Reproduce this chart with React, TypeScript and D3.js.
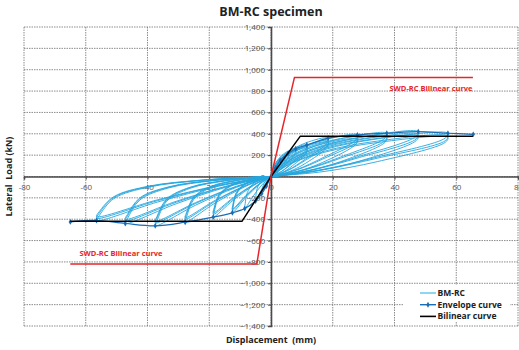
import React, { useEffect, useRef } from "react";
import * as d3 from "d3";

// axis ticks
const xTicks = [-80, -60, -40, -20, 0, 20, 40, 60, 80];
const yTicks = [-1400, -1200, -1000, -800, -600, -400, -200, 0, 200, 400, 600, 800, 1000, 1200, 1400];

// BM-RC hysteresis loops: [disp, load] pairs
const loops: number[][][] = [
  [[0,0],[0.45,50],[1.5,80],[1.48,60],[0.6,25],[0,0],[-0.6,-30],[-1.5,-90],[-1.48,-70],[-0.8,-20],[0,0]],
  [[0,0],[0.9,90],[1.8,130],[3,150],[2.95,115],[1.5,55],[0,0],[-1,-45],[-2,-100],[-3,-160],[-2.95,-125],[-2,-50],[-1,-15],[0,0]],
  [[0,0],[0.55,65],[1.65,133],[3.3,187],[5.5,215],[5.42,175],[3.3,97],[1.65,37],[0.28,4],[0,0],[-1.5,-51],[-3.25,-133],[-5,-230],[-4.93,-190],[-4.5,-115],[-3.5,-55],[-2,-21],[-0.6,-5],[0,0]],
  [[0,0],[0.8,78],[2.4,161],[4.8,226],[8,260],[7.88,215],[4.8,117],[2.4,44],[0.4,5],[0,0],[-2.55,-66],[-5.53,-174],[-8.5,-300],[-8.37,-255],[-7.65,-150],[-5.95,-72],[-3.4,-27],[-1.02,-6],[0,0]],
  [[0,0],[1.16,89],[3.48,183],[6.96,257],[11.6,295],[11.43,250],[6.96,133],[3.48,50],[0.58,6],[0,0],[-3.75,-75],[-8.13,-197],[-12.5,-340],[-12.31,-295],[-11.25,-170],[-8.75,-82],[-5,-31],[-1.5,-7],[0,0]],
  [[0,0],[1.16,83],[3.48,171],[6.96,239],[11.6,275],[11.43,230],[6.96,124],[3.48,47],[0.58,6],[0,0],[-3.75,-70],[-8.13,-184],[-12.5,-318],[-12.31,-273],[-11.25,-159],[-8.75,-76],[-5,-29],[-1.5,-6],[0,0]],
  [[0,0],[1.16,80],[3.48,164],[6.96,231],[11.6,265],[11.43,220],[6.96,101],[3.48,34],[0.58,5],[0,0],[-3.75,-67],[-8.13,-177],[-12.5,-305],[-12.31,-260],[-11.25,-152],[-8.75,-73],[-5,-27],[-1.5,-6],[0,0]],
  [[0,0],[1.85,108],[5.55,223],[11.1,313],[18.5,360],[18.22,315],[11.1,162],[5.55,61],[0.93,7],[0,0],[-5.61,-84],[-12.16,-220],[-18.7,-380],[-18.42,-335],[-16.83,-190],[-13.09,-91],[-7.48,-34],[-2.24,-8],[0,0]],
  [[0,0],[1.85,101],[5.55,208],[11.1,291],[18.5,335],[18.22,290],[11.1,151],[5.55,57],[0.93,7],[0,0],[-5.61,-78],[-12.16,-206],[-18.7,-355],[-18.42,-310],[-16.83,-178],[-13.09,-85],[-7.48,-32],[-2.24,-7],[0,0]],
  [[0,0],[1.85,97],[5.55,200],[11.1,280],[18.5,322],[18.22,277],[11.1,122],[5.55,42],[0.93,6],[0,0],[-5.61,-75],[-12.16,-197],[-18.7,-340],[-18.42,-295],[-16.83,-170],[-13.09,-82],[-7.48,-31],[-2.24,-7],[0,0]],
  [[0,0],[2.8,117],[8.4,242],[16.8,339],[28,390],[27.58,345],[16.8,176],[8.4,66],[1.4,8],[0,0],[-8.34,-94],[-18.07,-248],[-27.8,-428],[-27.38,-383],[-25.02,-214],[-19.46,-103],[-11.12,-39],[-3.34,-9],[0,0]],
  [[0,0],[2.8,110],[8.4,226],[16.8,318],[28,365],[27.58,320],[16.8,164],[8.4,62],[1.4,7],[0,0],[-8.34,-88],[-18.07,-232],[-27.8,-400],[-27.38,-355],[-25.02,-200],[-19.46,-96],[-11.12,-36],[-3.34,-8],[0,0]],
  [[0,0],[2.8,105],[8.4,217],[16.8,305],[28,350],[27.58,305],[16.8,133],[8.4,46],[1.4,6],[0,0],[-8.34,-85],[-18.07,-223],[-27.8,-385],[-27.38,-340],[-25.02,-192],[-19.46,-92],[-11.12,-35],[-3.34,-8],[0,0]],
  [[0,0],[3.75,122],[11.25,251],[22.5,352],[37.5,405],[36.94,360],[22.5,182],[11.25,69],[1.88,8],[0,0],[-11.25,-102],[-24.38,-268],[-37.5,-462],[-36.94,-417],[-33.75,-231],[-26.25,-111],[-15,-42],[-4.5,-9],[0,0]],
  [[0,0],[3.75,114],[11.25,236],[22.5,331],[37.5,380],[36.94,335],[22.5,171],[11.25,65],[1.88,8],[0,0],[-11.25,-96],[-24.38,-252],[-37.5,-435],[-36.94,-390],[-33.75,-218],[-26.25,-104],[-15,-39],[-4.5,-9],[0,0]],
  [[0,0],[3.75,110],[11.25,226],[22.5,318],[37.5,365],[36.94,320],[22.5,139],[11.25,47],[1.88,7],[0,0],[-11.25,-92],[-24.38,-244],[-37.5,-420],[-36.94,-375],[-33.75,-210],[-26.25,-101],[-15,-38],[-4.5,-8],[0,0]],
  [[0,0],[4.77,126],[14.31,260],[28.62,365],[47.7,420],[46.98,375],[28.62,189],[14.31,71],[2.39,8],[0,0],[-14.16,-97],[-30.68,-255],[-47.2,-440],[-46.49,-395],[-42.48,-220],[-33.04,-106],[-18.88,-40],[-5.66,-9],[0,0]],
  [[0,0],[4.77,119],[14.31,245],[28.62,344],[47.7,395],[46.98,350],[28.62,178],[14.31,67],[2.39,8],[0,0],[-14.16,-91],[-30.68,-241],[-47.2,-415],[-46.49,-370],[-42.48,-208],[-33.04,-100],[-18.88,-37],[-5.66,-8],[0,0]],
  [[0,0],[4.77,114],[14.31,236],[28.62,331],[47.7,380],[46.98,335],[28.62,144],[14.31,49],[2.39,7],[0,0],[-14.16,-88],[-30.68,-232],[-47.2,-400],[-46.49,-355],[-42.48,-200],[-33.04,-96],[-18.88,-36],[-5.66,-8],[0,0]],
  [[0,0],[5.73,122],[17.19,251],[34.38,352],[57.3,405],[56.44,360],[34.38,182],[17.19,69],[2.87,8],[0,0],[-16.95,-91],[-36.73,-239],[-56.5,-412],[-55.65,-367],[-50.85,-206],[-39.55,-99],[-22.6,-37],[-6.78,-8],[0,0]],
  [[0,0],[5.73,114],[17.19,236],[34.38,331],[57.3,380],[56.44,335],[34.38,171],[17.19,65],[2.87,8],[0,0],[-16.95,-86],[-36.73,-226],[-56.5,-390],[-55.65,-345],[-50.85,-195],[-39.55,-94],[-22.6,-35],[-6.78,-8],[0,0]],
  [[0,0],[5.73,110],[17.19,226],[34.38,318],[57.3,365],[56.44,320],[34.38,139],[17.19,47],[2.87,7],[0,0],[-16.95,-83],[-36.73,-218],[-56.5,-375],[-55.65,-330],[-50.85,-188],[-39.55,-90],[-22.6,-34],[-6.78,-8],[0,0]],
];

// envelope curve (peaks of each level)
const envelope: number[][] = [
  [-65, -425], [-56.5, -412], [-47.2, -440], [-37.5, -462], [-27.8, -428], [-18.7, -380],
  [-12.5, -340], [-8.5, -300], [-5, -230], [-3, -160], [-1.5, -90], [0, 0],
  [1.5, 80], [3, 150], [5.5, 215], [8, 260], [11.6, 295], [18.5, 360], [28, 390],
  [37.5, 405], [47.7, 420], [57.3, 405], [65.5, 395],
];

// bilinear curve of BM-RC
const bilinear: number[][] = [[-65, -420], [-9.4, -420], [0, 0], [9.5, 378], [65.4, 378]];

// SWD-RC bilinear curve
const swdBilinear: number[][] = [[-65, -820], [-4.6, -820], [0, 0], [7.6, 928], [65.4, 928]];

const legendItems = ["BM-RC", "Envelope curve", "Bilinear curve"];

const W = 519;
const H = 350;
const font = "'Open Sans', 'Noto Sans', sans-serif";

const App = () => {
  const ref = useRef<SVGSVGElement>(null);

  useEffect(() => {
    const svg = d3.select(ref.current);
    svg.selectAll("*").remove();

    const x = d3.scaleLinear().domain([-80, 80]).range([24, 518]);
    const y = d3.scaleLinear().domain([-1400, 1400]).range([326, 27]);

    // grid
    const grid = svg.append("g");
    xTicks.forEach((t) => {
      grid.append("line")
        .attr("x1", x(t)).attr("x2", x(t)).attr("y1", y(1400)).attr("y2", y(-1400))
        .attr("stroke", "#6e6e6e").attr("stroke-width", 0.8).attr("stroke-dasharray", "1.5,1");
    });
    yTicks.forEach((t) => {
      grid.append("line")
        .attr("x1", x(-80)).attr("x2", x(80)).attr("y1", y(t)).attr("y2", y(t))
        .attr("stroke", "#6e6e6e").attr("stroke-width", 0.8).attr("stroke-dasharray", "1.5,1");
    });

    // axes through origin
    const xAxis = d3.axisBottom(x).tickValues(xTicks).tickSize(3).tickFormat((d) => `${d}`);
    const yAxis = d3.axisLeft(y).tickValues(yTicks).tickSize(3).tickFormat(d3.format(","));

    const gx = svg.append("g").attr("transform", `translate(0,${y(0)})`).call(xAxis);
    const gy = svg.append("g").attr("transform", `translate(${x(0)},0)`).call(yAxis);
    [gx, gy].forEach((g) => {
      g.select(".domain").attr("stroke", "#4a4a4a").attr("stroke-width", 1.6);
      g.selectAll(".tick line").attr("stroke", "#4a4a4a");
      g.selectAll(".tick text").attr("fill", "#555").style("font-size", "8px").style("font-family", font);
    });
    gx.selectAll(".tick text").attr("dy", "0.9em");

    const line = d3.line<number[]>().x((d) => x(d[0])).y((d) => y(d[1]));
    const smooth = d3.line<number[]>().x((d) => x(d[0])).y((d) => y(d[1])).curve(d3.curveCatmullRom.alpha(0.5));

    // hysteresis loops
    loops.forEach((lp) => {
      svg.append("path").datum(lp).attr("d", smooth)
        .attr("fill", "none").attr("stroke", "#26a6de").attr("stroke-width", 0.9);
    });

    // envelope
    svg.append("path").datum(envelope).attr("d", smooth)
      .attr("fill", "none").attr("stroke", "#1b6db3").attr("stroke-width", 1.2);
    svg.append("g").selectAll("path").data(envelope).join("path")
      .attr("d", d3.symbol(d3.symbolDiamond, 10))
      .attr("transform", (d) => `translate(${x(d[0])},${y(d[1])})`)
      .attr("fill", "#1b6db3");

    // bilinear lines
    svg.append("path").datum(bilinear).attr("d", line)
      .attr("fill", "none").attr("stroke", "#000").attr("stroke-width", 1.5);
    svg.append("path").datum(swdBilinear).attr("d", line)
      .attr("fill", "none").attr("stroke", "#e5262a").attr("stroke-width", 1.5);

    // red labels
    svg.append("text").attr("x", 431).attr("y", 91).attr("text-anchor", "middle")
      .text("SWD-RC Bilinear curve").attr("fill", "#e5262a")
      .style("font-size", "7.5px").style("font-weight", "bold").style("font-family", font);
    svg.append("text").attr("x", 121).attr("y", 256).attr("text-anchor", "middle")
      .text("SWD-RC Bilinear curve").attr("fill", "#e5262a")
      .style("font-size", "7.5px").style("font-weight", "bold").style("font-family", font);

    // legend
    const lg = svg.append("g");
    lg.append("rect").attr("x", 404).attr("y", 285).attr("width", 106).attr("height", 37).attr("fill", "#fff");
    const legendColors = ["#5ec4ec", "#1b6db3", "#000"];
    legendItems.forEach((name, i) => {
      const ly = 293 + i * 11.7;
      lg.append("line").attr("x1", 420).attr("x2", 436).attr("y1", ly).attr("y2", ly)
        .attr("stroke", legendColors[i]).attr("stroke-width", i === 2 ? 1.6 : 1.4);
      if (i === 1) {
        lg.append("path").attr("d", d3.symbol(d3.symbolDiamond, 10))
          .attr("transform", `translate(428,${ly})`).attr("fill", legendColors[i]);
      }
      lg.append("text").attr("x", 437.5).attr("y", ly + 3).text(name).attr("fill", "#222")
        .style("font-size", "8.5px").style("font-weight", "bold").style("font-family", font);
    });

    // titles
    svg.append("text").attr("x", 271).attr("y", 16).attr("text-anchor", "middle")
      .text("BM-RC specimen").attr("fill", "#222")
      .style("font-size", "12.5px").style("font-weight", "bold").style("font-family", font);
    svg.append("text").attr("x", 271).attr("y", 343).attr("text-anchor", "middle")
      .text("Displacement  (mm)").attr("fill", "#222").attr("xml:space", "preserve")
      .style("font-size", "9px").style("font-weight", "bold").style("font-family", font);
    svg.append("text").attr("transform", `translate(12,${y(0)}) rotate(-90)`).attr("text-anchor", "middle")
      .text("Lateral  Load (kN)").attr("fill", "#222").attr("xml:space", "preserve")
      .style("font-size", "9px").style("font-weight", "bold").style("font-family", font);
  }, []);

  return (
    <svg ref={ref} width={W} height={H}
      style={{ position: "absolute", left: 0, top: 0, background: "#fff", display: "block" }} />
  );
};

export default App;
